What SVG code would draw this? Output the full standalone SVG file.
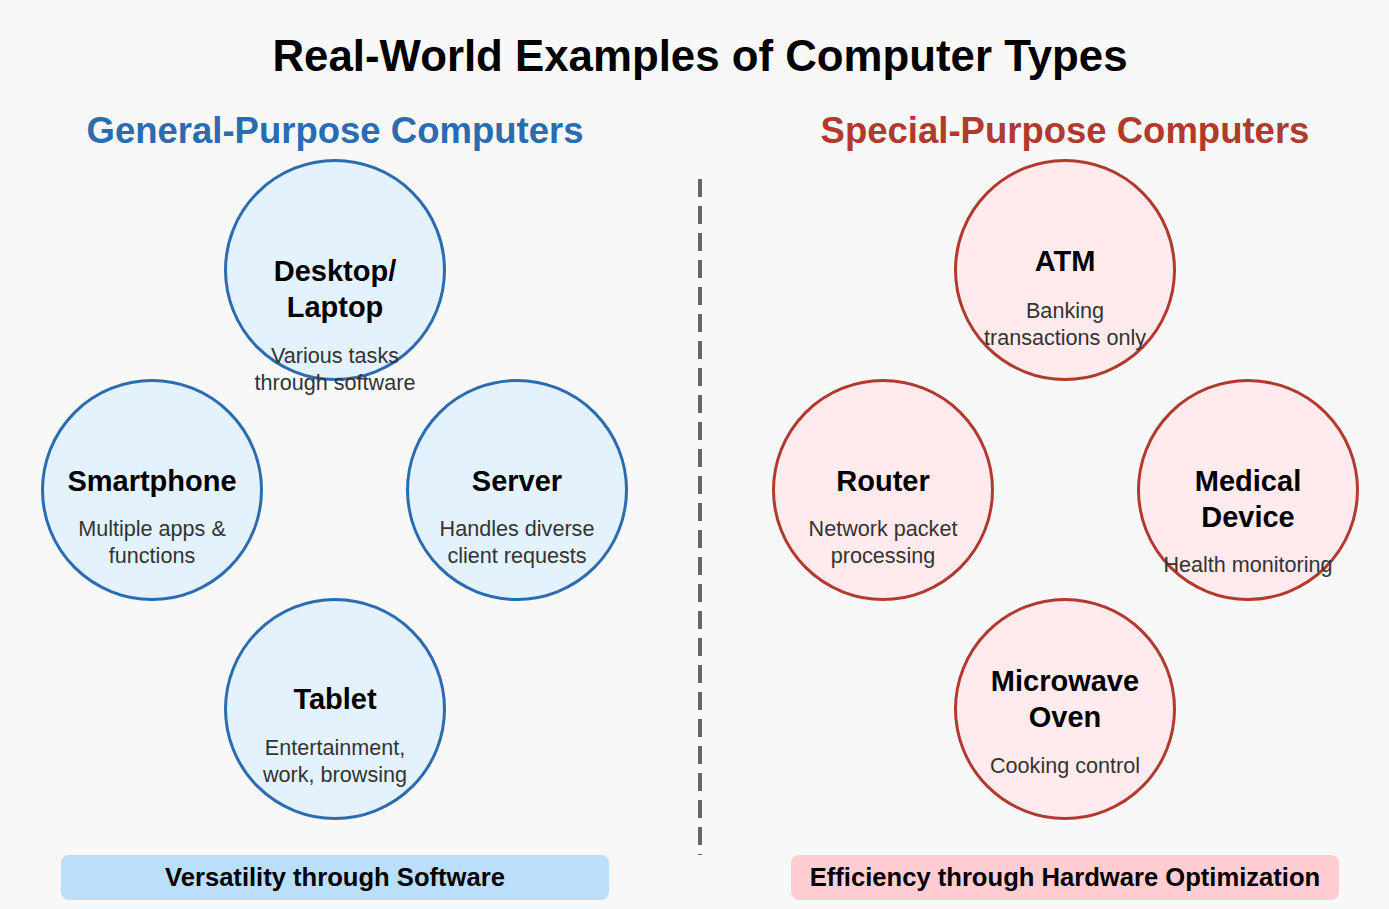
<svg xmlns="http://www.w3.org/2000/svg" width="1389" height="909" viewBox="0 0 1389 909">
<style>
text{font-family:"Liberation Sans",Arial,sans-serif;text-anchor:middle}
.title{font-size:43.8px;font-weight:bold;fill:#000}
.hdr{font-size:36.5px;font-weight:bold}
.gp{fill:#e3f2fd;stroke:#2b6cb0;stroke-width:3}
.sp{fill:#ffebee;stroke:#b03a2e;stroke-width:3}
.nt{font-size:29px;font-weight:bold;fill:#000}
.nd{font-size:21.6px;fill:#333}
.bar{font-size:25.6px;font-weight:bold;fill:#000}
</style>
<rect width="1389" height="909" fill="#f8f8f8"/>
<text class="title" x="700" y="71">Real-World Examples of Computer Types</text>
<text class="hdr" x="335" y="143" fill="#2b6cb0">General-Purpose Computers</text>
<text class="hdr" x="1065" y="143" fill="#b03a2e">Special-Purpose Computers</text>
<g id="connectors">
<line x1="700" y1="179" x2="700" y2="855" stroke="#666" stroke-width="4" stroke-dasharray="18,9"/>
</g>
<g id="desktop">
<circle class="gp" cx="335" cy="270" r="109.5"/>
<text class="nt" x="335" y="281">Desktop/</text>
<text class="nt" x="335" y="317">Laptop</text>
<text class="nd" x="335" y="363">Various tasks</text>
<text class="nd" x="335" y="390">through software</text>
</g>
<g id="smartphone">
<circle class="gp" cx="152" cy="490" r="109.5"/>
<text class="nt" x="152" y="491">Smartphone</text>
<text class="nd" x="152" y="536">Multiple apps &amp;</text>
<text class="nd" x="152" y="563">functions</text>
</g>
<g id="server">
<circle class="gp" cx="517" cy="490" r="109.5"/>
<text class="nt" x="517" y="491">Server</text>
<text class="nd" x="517" y="536">Handles diverse</text>
<text class="nd" x="517" y="563">client requests</text>
</g>
<g id="tablet">
<circle class="gp" cx="335" cy="709" r="109.5"/>
<text class="nt" x="335" y="709">Tablet</text>
<text class="nd" x="335" y="755">Entertainment,</text>
<text class="nd" x="335" y="782">work, browsing</text>
</g>
<g id="atm">
<circle class="sp" cx="1065" cy="270" r="109.5"/>
<text class="nt" x="1065" y="271">ATM</text>
<text class="nd" x="1065" y="318">Banking</text>
<text class="nd" x="1065" y="345">transactions only</text>
</g>
<g id="router">
<circle class="sp" cx="883" cy="490" r="109.5"/>
<text class="nt" x="883" y="491">Router</text>
<text class="nd" x="883" y="536">Network packet</text>
<text class="nd" x="883" y="563">processing</text>
</g>
<g id="medical">
<circle class="sp" cx="1248" cy="490" r="109.5"/>
<text class="nt" x="1248" y="491">Medical</text>
<text class="nt" x="1248" y="527">Device</text>
<text class="nd" x="1248" y="572">Health monitoring</text>
</g>
<g id="microwave">
<circle class="sp" cx="1065" cy="709" r="109.5"/>
<text class="nt" x="1065" y="691">Microwave</text>
<text class="nt" x="1065" y="727">Oven</text>
<text class="nd" x="1065" y="773">Cooking control</text>
</g>
<g id="bar-left">
<rect x="61" y="855" width="548" height="45" rx="8" fill="#bbdefb"/>
<text class="bar" x="335" y="886">Versatility through Software</text>
</g>
<g id="bar-right">
<rect x="791" y="855" width="548" height="45" rx="8" fill="#ffcdd2"/>
<text class="bar" x="1065" y="886">Efficiency through Hardware Optimization</text>
</g>
</svg>
